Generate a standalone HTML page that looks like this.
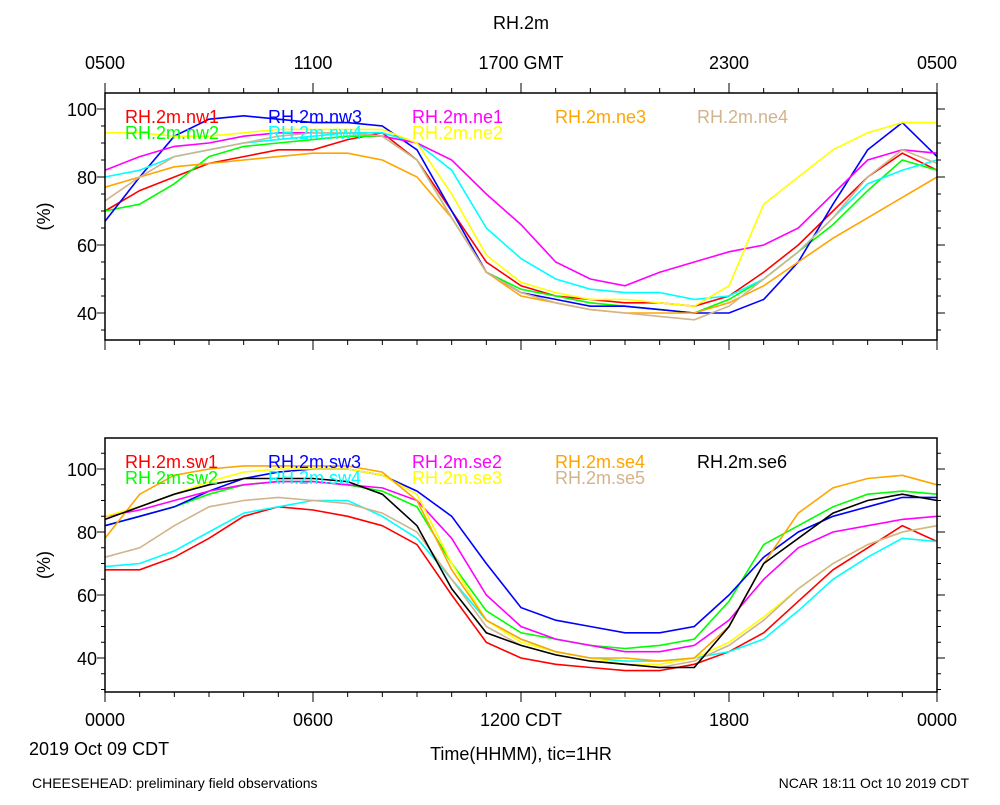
<!DOCTYPE html>
<html><head><meta charset="utf-8"><style>
body{margin:0;background:#fff;}
svg text{font-family:"Liberation Sans",sans-serif;}
</style></head><body>
<svg id="c" width="1000" height="800" xmlns="http://www.w3.org/2000/svg"></svg>
<script>
const hours=[0,1,2,3,4,5,6,7,8,9,10,11,12,13,14,15,16,17,18,19,20,21,22,23,24];
const topNames=["RH.2m.nw1","RH.2m.nw2","RH.2m.nw3","RH.2m.nw4","RH.2m.ne1","RH.2m.ne2","RH.2m.ne3","RH.2m.ne4"];
const nw1=[70,76,80,84,86,88,88,91,93,85,70,55,48,45,44,43,43,42,45,52,60,70,80,87,82];
const nw2=[70,72,78,86,89,90,91,92,92,85,68,52,47,45,43,42,41,40,44,50,58,66,76,85,82];
const nw3=[67,80,92,97,98,97,96,96,95,88,70,52,46,44,42,42,41,40,40,44,55,72,88,96,86];
const nw4=[80,82,86,88,90,91,92,93,93,90,82,65,56,50,47,46,46,44,45,50,58,68,78,82,85];
const ne1=[82,86,89,90,92,93,93,93,92,90,85,75,66,55,50,48,52,55,58,60,65,75,85,88,87];
const ne2=[93,93,92,92,93,94,94,94,94,90,75,57,49,46,44,44,43,42,48,72,80,88,93,96,96];
const ne3=[77,80,83,84,85,86,87,87,85,80,68,52,45,43,41,40,40,40,43,48,55,62,68,74,80];
const ne4=[73,80,86,88,90,92,93,93,92,85,68,52,46,43,41,40,39,38,42,50,58,68,80,88,84];
const botNames=["RH.2m.sw1","RH.2m.sw2","RH.2m.sw3","RH.2m.sw4","RH.2m.se2","RH.2m.se3","RH.2m.se4","RH.2m.se5","RH.2m.se6"];
const sw1=[68,68,72,78,85,88,87,85,82,76,60,45,40,38,37,36,36,38,42,48,58,68,75,82,77];
const sw2=[82,85,88,92,95,96,96,95,93,88,70,55,48,46,44,43,44,46,58,76,82,88,92,93,92];
const sw3=[82,85,88,93,97,99,100,100,98,93,85,70,56,52,50,48,48,50,60,72,80,85,88,91,91];
const sw4=[69,70,74,80,86,88,90,90,85,78,65,52,46,42,40,39,39,40,42,46,55,65,72,78,77];
const se2=[85,87,90,93,95,96,96,95,94,90,78,60,50,46,44,42,42,44,52,65,75,80,82,84,85];
const se3=[85,88,92,96,99,100,100,100,98,92,70,52,45,42,40,38,38,40,45,53,62,70,76,80,82];
const se4=[78,92,98,100,101,101,101,101,99,90,68,52,46,42,40,40,39,40,50,70,86,94,97,98,95];
const se5=[72,75,82,88,90,91,90,89,86,80,65,50,44,41,39,38,37,39,44,52,62,70,76,80,82];
const se6=[84,88,92,95,97,97,97,96,92,82,62,48,44,41,39,38,37,37,50,70,78,86,90,92,90];
const yTicks=[40,60,80,100];
const topXLabels=["0500","1100","1700 GMT","2300","0500"];
const botXLabels=["0000","0600","1200 CDT","1800","0000"];
const topColors=["#ff0000","#00ff00","#0000ff","#00ffff","#ff00ff","#ffff00","#ffa500","#d2b48c"];
const botColors=["#ff0000","#00ff00","#0000ff","#00ffff","#ff00ff","#ffff00","#ffa500","#d2b48c","#000000"];
const topSeries=[nw1,nw2,nw3,nw4,ne1,ne2,ne3,ne4];
const botSeries=[sw1,sw2,sw3,sw4,se2,se3,se4,se5,se6];
const topLegCol=[0,0,1,1,2,2,3,4], topLegRow=[0,1,0,1,0,1,0,0];
const botLegCol=[0,0,1,1,2,2,3,3,4], botLegRow=[0,1,0,1,0,1,0,1,0];

const svg=document.getElementById('c');
const NS="http://www.w3.org/2000/svg";
function mk(tag,at,parent){const e=document.createElementNS(NS,tag);for(const k in at)e.setAttribute(k,at[k]);(parent||svg).appendChild(e);return e;}
const X0=105,X1=937;
function xs(h){return X0+(X1-X0)*h/24;}
function txt(x,y,s,anchor,size,fill,name){const t=mk('text',{x:x,y:y,'text-anchor':anchor,'font-size':size,fill:fill});t.textContent=s;


return t;}

function panel(y0,y1,ys,series,colors,names,legCol,legRow,xTopLabels,xBotLabels,pname){
  const g=mk('g',{});
  
  
  series.forEach((d,i)=>{
    const pts=d.map((v,j)=>xs(hours[j]).toFixed(1)+','+ys(v).toFixed(1)).join(' ');
    const p=mk('polyline',{points:pts,fill:'none',stroke:colors[i],'stroke-width':1.6},g);
    
    
  });
  const r=mk('rect',{x:X0,y:y0,width:X1-X0,height:y1-y0,fill:'none',stroke:'#000','stroke-width':1.5},g);
  
  
  for(let h=0;h<=24;h++){
    const L=(h%6===0)?10:5;
    mk('line',{x1:xs(h),x2:xs(h),y1:y1,y2:y1+L,stroke:'#000','stroke-width':1},g);
    if(xTopLabels) mk('line',{x1:xs(h),x2:xs(h),y1:y0,y2:y0-L,stroke:'#000','stroke-width':1},g);
  }
  yTicks.forEach(v=>{
    mk('line',{x1:X0,x2:X0-8,y1:ys(v),y2:ys(v),stroke:'#000'},g);
    mk('line',{x1:X1,x2:X1+8,y1:ys(v),y2:ys(v),stroke:'#000'},g);
    txt(97,ys(v)+7,String(v),'end',18,'#000','y-tick-label');
  });
  for(let v=30;v<=105;v+=5){ if(ys(v)>y0&&ys(v)<y1&&v%20!==0){
    mk('line',{x1:X0,x2:X0-4,y1:ys(v),y2:ys(v),stroke:'#000'},g);
    mk('line',{x1:X1,x2:X1+4,y1:ys(v),y2:ys(v),stroke:'#000'},g);}}
  const yt=txt(0,0,'(%)','middle',18,'#000','y-axis-title');
  yt.setAttribute('transform','translate(50,'+((y0+y1)/2)+') rotate(-90)');
  if(xTopLabels) xTopLabels.forEach((s,i)=>txt(xs(i*6),69,s,'middle',18,'#000','top-x-tick-label'));
  if(xBotLabels) xBotLabels.forEach((s,i)=>txt(xs(i*6),y1+34,s,'middle',18,'#000','x-tick-label'));
  const cols=[125,268,412,555,697];
  names.forEach((n,i)=>{
    txt(cols[legCol[i]],y0+30+legRow[i]*16,n,'start',18,colors[i],'legend-entry');
  });
}
function ysTop(v){return 313-(v-40)*3.4;}
function ysBot(v){return 658-(v-40)*3.15;}
panel(93,340,ysTop,topSeries,topColors,topNames,topLegCol,topLegRow,topXLabels,null,'top-panel');
panel(438,692,ysBot,botSeries,botColors,botNames,botLegCol,botLegRow,null,botXLabels,'bottom-panel');
txt(521,29,'RH.2m','middle',18,'#000','chart-title');
txt(29,755,'2019 Oct 09 CDT','start',18,'#000','date-label');
txt(521,760,'Time(HHMM), tic=1HR','middle',18,'#000','x-axis-title');
txt(32,788,'CHEESEHEAD: preliminary field observations','start',14,'#000','footer-left');
txt(969,788,'NCAR 18:11 Oct 10 2019 CDT','end',14,'#000','footer-right');
</script>
</body></html>
